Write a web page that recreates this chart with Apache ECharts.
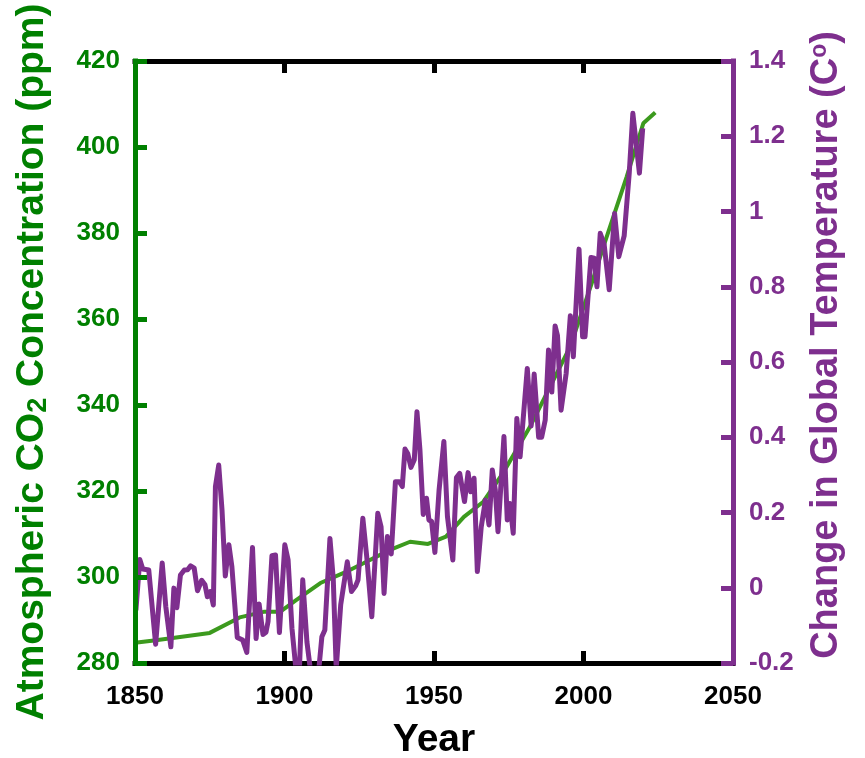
<!DOCTYPE html>
<html><head><meta charset="utf-8">
<script src="https://cdn.jsdelivr.net/npm/echarts@6/dist/echarts.min.js"></script>
<style>html,body{margin:0;padding:0;background:#fff}#c{width:865px;height:758px}</style>
</head><body><div id="c"></div>
<script>
// ---- data ----
const co2Years  = [1850, 1857, 1875, 1885, 1893, 1898.5, 1904, 1912, 1920, 1926.4, 1935.3, 1942, 1948, 1954, 1960, 1966.5, 1973, 1982, 1995.5, 2002.6, 2006.5, 2010, 2014.4, 2020, 2024];
const co2Values = [284.7, 285.3, 287.0, 290.6, 291.9, 291.9, 294.7, 298.6, 301.0, 303.2, 306.3, 308.2, 307.7, 309.4, 314.0, 317.5, 324.1, 334.8, 353.5, 368.0, 376.5, 383.8, 393.0, 405.5, 408.0];

const tempYears = [1850.3, 1851.6, 1852.6, 1854.6, 1856.9, 1859.1, 1860.3, 1862.0, 1863.0, 1864.0, 1865.2, 1866.5, 1867.6, 1868.6, 1869.8, 1870.9, 1872.3, 1873.4, 1874.2, 1875.2, 1876.2, 1876.9, 1878.0, 1879.1, 1880.2, 1881.4, 1882.4, 1884.2, 1886.0, 1887.4, 1889.3, 1890.5, 1891.5, 1892.8, 1893.8, 1894.5, 1895.8, 1897.0, 1898.3, 1900.1, 1901.2, 1902.5, 1903.8, 1905.0, 1906.1, 1907.5, 1908.7, 1910.0, 1911.5, 1912.5, 1913.5, 1915.2, 1916.3, 1917.3, 1918.8, 1921.0, 1922.4, 1923.8, 1924.6, 1926.2, 1927.5, 1928.0, 1929.2, 1931.2, 1932.3, 1933.3, 1934.4, 1935.0, 1935.7, 1937.1, 1938.4, 1939.4, 1940.3, 1941.2, 1942.3, 1943.4, 1944.3, 1945.3, 1946.4, 1947.5, 1948.3, 1949.2, 1950.3, 1951.7, 1953.3, 1954.5, 1956.3, 1957.5, 1958.6, 1960.2, 1961.4, 1962.3, 1963.4, 1964.5, 1965.8, 1967.2, 1968.4, 1969.5, 1970.5, 1971.4, 1973.4, 1974.5, 1975.4, 1976.5, 1977.7, 1978.8, 1981.2, 1982.5, 1983.5, 1985.0, 1986.0, 1987.2, 1988.3, 1989.4, 1990.5, 1991.3, 1992.5, 1994.2, 1995.6, 1996.6, 1998.5, 1999.7, 2000.5, 2002.5, 2003.6, 2004.5, 2005.6, 2006.9, 2008.6, 2010.4, 2011.8, 2013.6, 2015.3, 2016.5, 2018.7, 2019.8];
const tempValues = [-0.06, 0.075, 0.05, 0.047, -0.15, 0.066, -0.05, -0.157, -0.001, -0.053, 0.034, 0.047, 0.048, 0.058, 0.052, -0.008, 0.02, 0.008, -0.024, -0.01, -0.046, 0.269, 0.326, 0.207, 0.031, 0.114, 0.056, -0.132, -0.139, -0.172, 0.107, -0.135, -0.043, -0.124, -0.118, -0.09, 0.085, 0.087, -0.119, 0.114, 0.074, -0.108, -0.215, -0.215, 0.021, -0.144, -0.22, -0.23, -0.215, -0.13, -0.112, 0.131, 0.025, -0.215, -0.045, 0.069, -0.01, 0.005, 0.021, 0.185, 0.083, 0.085, -0.077, 0.198, 0.162, -0.015, 0.136, 0.109, 0.09, 0.282, 0.282, 0.269, 0.369, 0.357, 0.32, 0.34, 0.468, 0.366, 0.195, 0.238, 0.18, 0.176, 0.094, 0.26, 0.389, 0.189, 0.074, 0.293, 0.304, 0.229, 0.306, 0.255, 0.291, 0.043, 0.162, 0.233, 0.167, 0.313, 0.26, 0.149, 0.402, 0.18, 0.224, 0.145, 0.45, 0.348, 0.583, 0.43, 0.568, 0.40, 0.40, 0.446, 0.632, 0.52, 0.696, 0.67, 0.472, 0.57, 0.723, 0.614, 0.90, 0.667, 0.667, 0.878, 0.876, 0.80, 0.942, 0.913, 0.792, 0.995, 0.88, 0.935, 1.102, 1.261, 1.102, 1.221];

const yearAxis = [1850, 2050, 50];   // min, max, step
const co2Axis  = [280, 420, 20];
const tempAxis = [-0.2, 1.4, 0.2];

// ---- chart ----
const GREEN_AX = '#008000', GREEN_LN = '#3c9a1e', PURPLE = '#7e2f8e', BLACK = '#000';
const FONT = '"Liberation Sans", Arial, sans-serif';

const chart = echarts.init(document.getElementById('c'), null, {renderer: 'canvas'});

function xAx(pos, showLabels) {
  return {
    type: 'value', position: pos,
    min: yearAxis[0], max: yearAxis[1], interval: yearAxis[2],
    z: 1,
    axisLine: {show: true, onZero: false, lineStyle: {color: BLACK, width: 5, cap: 'square'}},
    axisTick: {show: true, inside: true, length: 12, lineStyle: {color: BLACK, width: 5}},
    axisLabel: {show: showLabels, color: BLACK, fontSize: 26, fontWeight: 'bold', fontFamily: FONT, margin: 21,
                formatter: v => String(v)},
    splitLine: {show: false},
    name: showLabels ? 'Year' : '',
    nameLocation: 'middle', nameGap: 58,
    nameTextStyle: {color: BLACK, fontSize: 39, fontWeight: 'bold', fontFamily: FONT}
  };
}

const option = {
  animation: false,
  backgroundColor: '#fff',
  grid: {left: 135, right: 132, top: 61, bottom: 95, containLabel: false, outerBoundsMode: 'none'},
  xAxis: [xAx('bottom', true), xAx('top', false)],
  yAxis: [
    {
      type: 'value', position: 'left',
      min: co2Axis[0], max: co2Axis[1], interval: co2Axis[2],
      z: 3,
      axisLine: {show: true, onZero: false, lineStyle: {color: GREEN_AX, width: 5, cap: 'square'}},
      axisTick: {show: true, inside: true, length: 12, lineStyle: {color: GREEN_AX, width: 5}},
      axisLabel: {color: GREEN_AX, fontSize: 26, fontWeight: 'bold', fontFamily: FONT, margin: 15},
      splitLine: {show: false},
      name: '{t|Atmospheric CO}{s|2}{t| Concentration (ppm)}',
      nameLocation: 'middle', nameRotate: 90, nameGap: 83,
      nameTextStyle: {
        color: GREEN_AX, fontWeight: 'bold', fontFamily: FONT, fontSize: 39,
        rich: {
          t: {color: GREEN_AX, fontWeight: 'bold', fontFamily: FONT, fontSize: 39, lineHeight: 39, verticalAlign: 'top'},
          s: {color: GREEN_AX, fontWeight: 'bold', fontFamily: FONT, fontSize: 27, lineHeight: 27, verticalAlign: 'bottom', padding: [18, 0, 0, 0]}
        }
      }
    },
    {
      type: 'value', position: 'right',
      min: tempAxis[0], max: tempAxis[1], interval: tempAxis[2],
      z: 3,
      axisLine: {show: true, onZero: false, lineStyle: {color: PURPLE, width: 5, cap: 'square'}},
      axisTick: {show: true, inside: true, length: 12, lineStyle: {color: PURPLE, width: 5}},
      axisLabel: {color: PURPLE, fontSize: 26, fontWeight: 'bold', fontFamily: FONT, margin: 16},
      splitLine: {show: false},
      name: '{t|Change in Global Temperature (C}{u|o}{t|)}',
      nameLocation: 'middle', nameRotate: 90, nameGap: 70,
      nameTextStyle: {
        color: PURPLE, fontWeight: 'bold', fontFamily: FONT, fontSize: 38,
        padding: [0, 0, 0, 34],
        rich: {
          t: {color: PURPLE, fontWeight: 'bold', fontFamily: FONT, fontSize: 38, lineHeight: 38, verticalAlign: 'bottom', padding: [3, 0, 0, 0]},
          u: {color: PURPLE, fontWeight: 'bold', fontFamily: FONT, fontSize: 23, lineHeight: 23, verticalAlign: 'top'}
        }
      }
    }
  ],
  series: [
    {
      type: 'line', name: 'CO2', xAxisIndex: 0, yAxisIndex: 0,
      data: co2Years.map((y, i) => [y, co2Values[i]]),
      showSymbol: false, symbol: 'none', clip: true,
      lineStyle: {color: GREEN_LN, width: 4}, z: 2
    },
    {
      type: 'line', name: 'Temp', xAxisIndex: 0, yAxisIndex: 1,
      data: tempYears.map((y, i) => [y, tempValues[i]]),
      showSymbol: false, symbol: 'none', clip: true,
      lineStyle: {color: PURPLE, width: 5, join: 'round'}, z: 2
    }
  ]
};
chart.setOption(option);
</script>
</body></html>
